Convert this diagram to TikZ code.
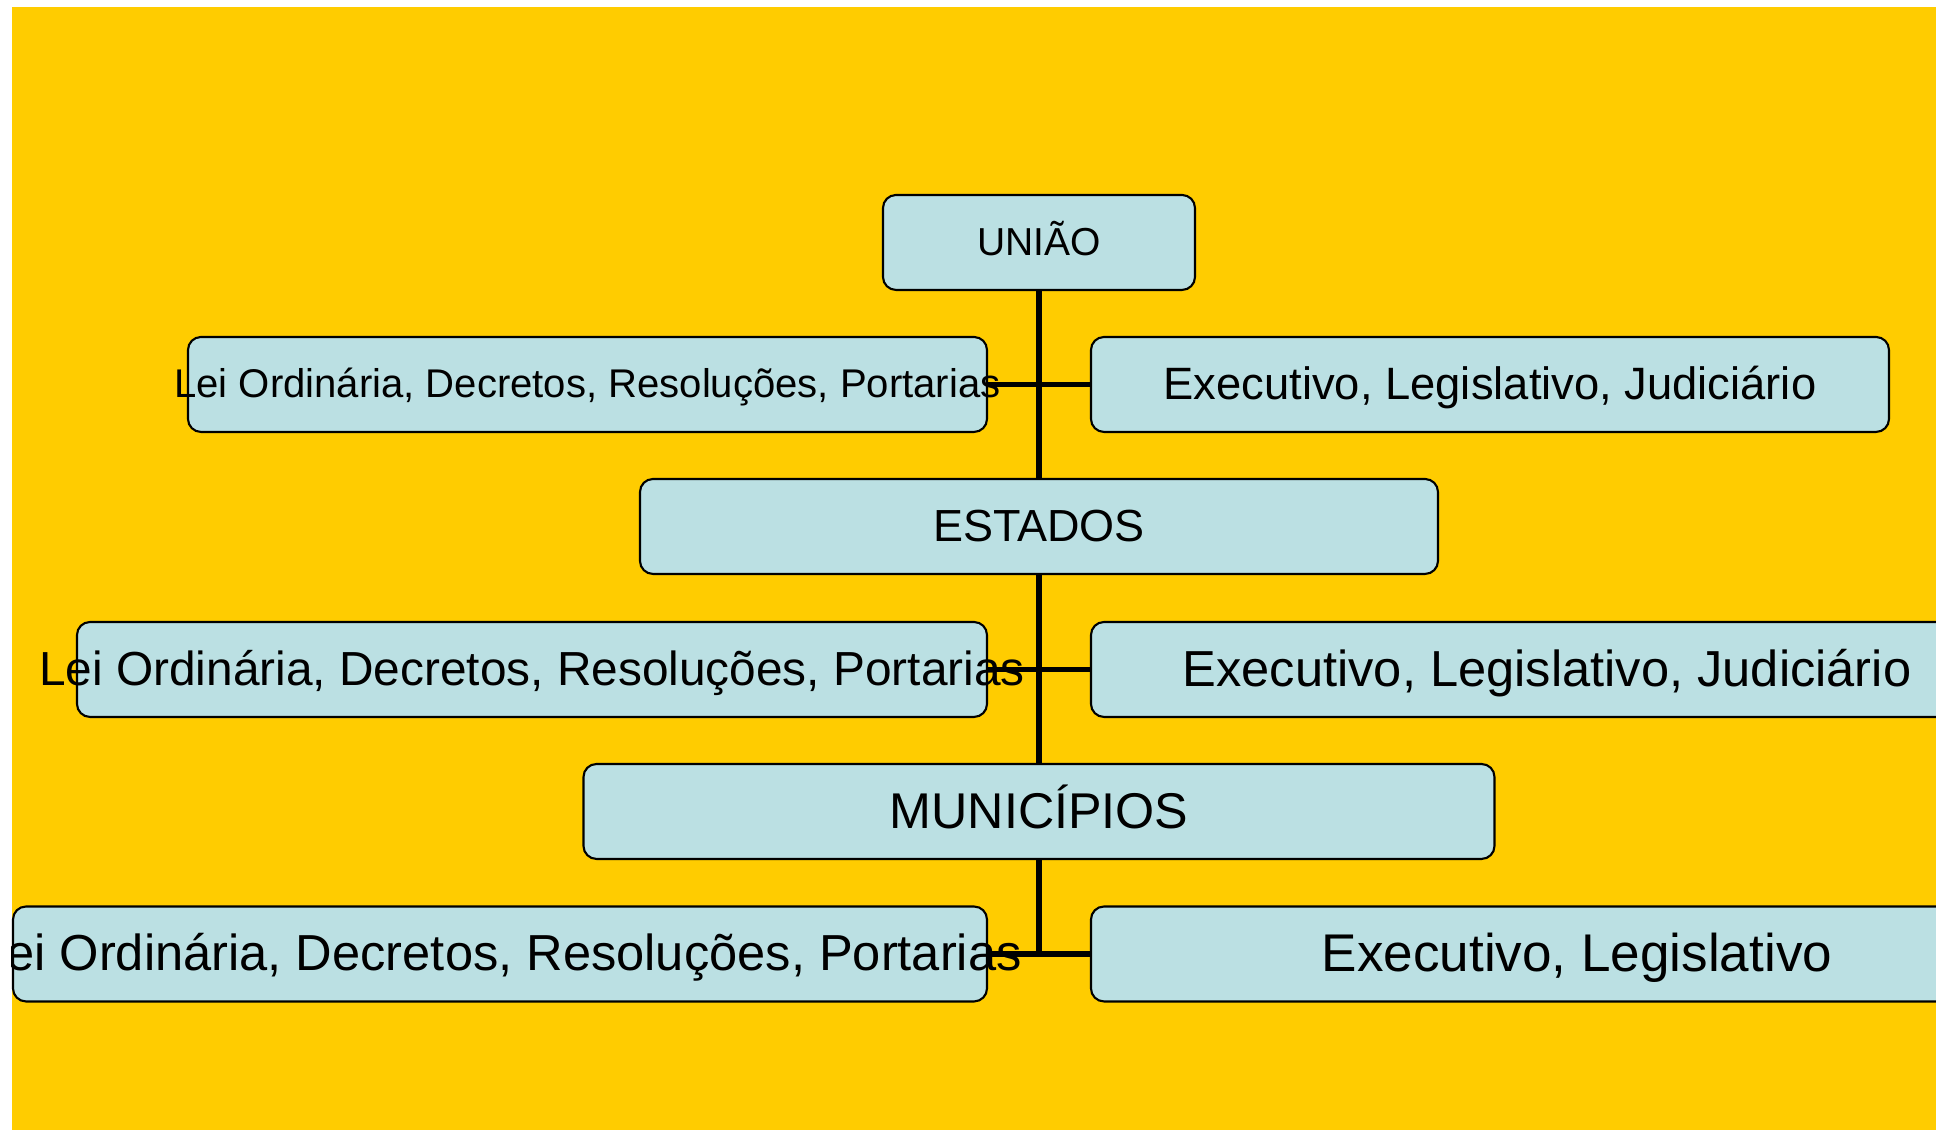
\documentclass[tikz,border=0pt]{standalone}
\usepackage{fontspec}
\setmainfont{Liberation Sans}
\usetikzlibrary{backgrounds}
\definecolor{fundoamarelo}{RGB}{255,204,0}
\definecolor{azulcaixa}{RGB}{187,224,227}
\newcommand{\rotulo}[2]{\makebox[0pt]{\fontsize{#1}{#1}\selectfont\vphantom{Ãç}#2}}

\begin{document}
\begin{tikzpicture}[
    caixa/.style={draw=black, line width=0.6pt, fill=azulcaixa, rounded corners=3.7pt, minimum height=0.95cm, inner sep=0pt},
    ligacao/.style={line width=1.5pt, black}
  ]
  \useasboundingbox (0,0) rectangle (19.36,11.30);
  \clip (0.12,0) rectangle (19.36,11.23);

  % Uniao
  \node[caixa, minimum width=3.12cm] (uniao) at (10.39,8.875) {\rotulo{11.1pt}{UNIÃO}};
  \node[caixa, minimum width=7.99cm] (leiU) at (5.875,7.455) {\rotulo{11.4pt}{Lei Ordinária, Decretos, Resoluções, Portarias}};
  \node[caixa, minimum width=7.98cm] (poderU) at (14.90,7.455) {\rotulo{12.9pt}{Executivo, Legislativo, Judiciário}};

  % Estados
  \node[caixa, minimum width=7.98cm] (estados) at (10.39,6.035) {\rotulo{12.8pt}{ESTADOS}};
  \node[caixa, minimum width=9.10cm] (leiE) at (5.32,4.605) {\rotulo{13.6pt}{Lei Ordinária, Decretos, Resoluções, Portarias}};
  \node[caixa, minimum width=9.12cm] (poderE) at (15.47,4.605) {\rotulo{14.4pt}{Executivo, Legislativo, Judiciário}};

  % Municipios
  \node[caixa, minimum width=9.11cm] (municipios) at (10.39,3.185) {\rotulo{14.3pt}{MUNICÍPIOS}};
  \node[caixa, minimum width=9.74cm] (leiM) at (5.00,1.76) {\rotulo{14.4pt}{Lei Ordinária, Decretos, Resoluções, Portarias}};
  \node[caixa, minimum width=9.72cm] (poderM) at (15.77,1.76) {\rotulo{15.1pt}{Executivo, Legislativo}};

  % Fundo e ligacoes
  \begin{scope}[on background layer]
    \fill[fundoamarelo] (0.12,0) rectangle (19.36,11.23);
    \draw[ligacao] (uniao) -- (estados);
    \draw[ligacao] (estados) -- (municipios);
    \draw[ligacao] (municipios.south) -- (municipios.south |- leiM.east);
    \draw[ligacao] (leiU) -- (poderU);
    \draw[ligacao] (leiE) -- (poderE);
    \draw[ligacao] (leiM) -- (poderM);
  \end{scope}
\end{tikzpicture}
\end{document}
